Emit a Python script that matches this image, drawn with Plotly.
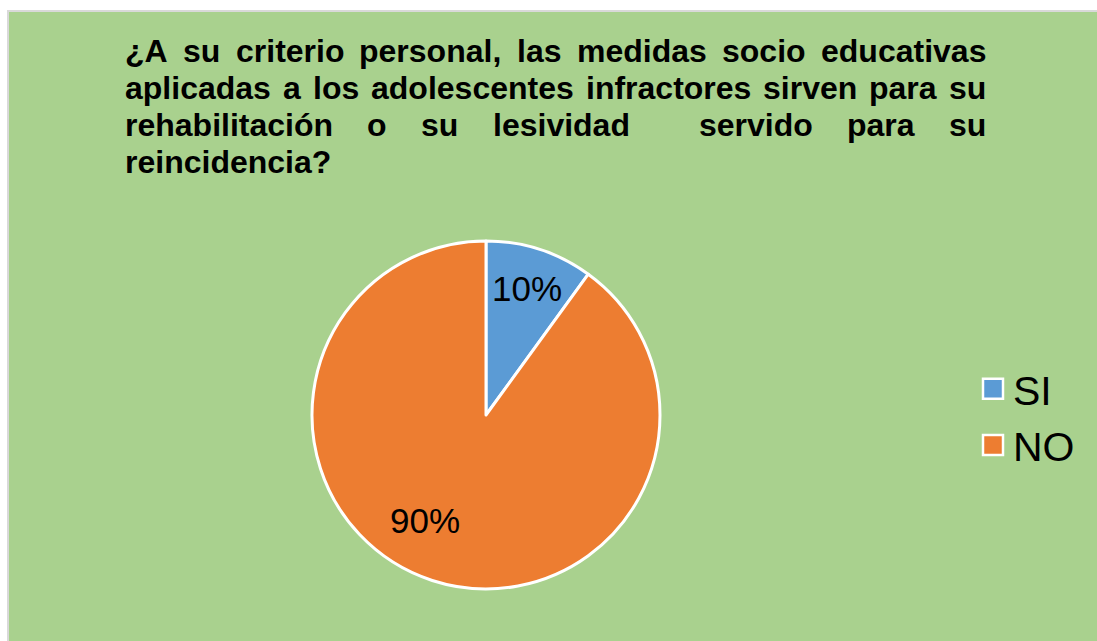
import plotly.graph_objects as go

# ---- data ----
labels = ["SI", "NO"]
values = [10, 90]
colors = ["#5B9BD5", "#ED7D31"]
title_lines = [
    "¿A su criterio personal, las medidas socio educativas",
    "aplicadas a los adolescentes infractores sirven para su",
    "rehabilitación o su lesividad  servido para su",
    "reincidencia?",
]

W, H = 1097, 641
FONT = "Liberation Sans, Arial, sans-serif"
TITLE_SIZE = 32

# Arial Bold advance widths (per 1000 em) for justification
ADV = {"¿": 611, "A": 722, " ": 278, "s": 556, "u": 611, "c": 556, "r": 389,
       "i": 278, "t": 333, "e": 556, "o": 611, "p": 611, "n": 611, "a": 556,
       "l": 278, ",": 278, "m": 889, "d": 611, "v": 556, "h": 611, "b": 611,
       "ó": 611, "f": 333, "?": 611}


def wpx(s):
    return sum(ADV.get(ch, 556) for ch in s) / 1000 * TITLE_SIZE


def px_x(x):
    return x / W


def px_y(y):
    return 1 - y / H


NBSP = "\u00a0"
fig = go.Figure()
fig.add_trace(go.Pie(
    labels=labels, values=values, sort=False, direction="clockwise", rotation=0,
    marker=dict(colors=colors, line=dict(color="white", width=3)),
    texttemplate=["%{percent}", NBSP + "<br>%{percent}" + NBSP * 7],
    textposition="inside", insidetextorientation="horizontal",
    textfont=dict(family=FONT, size=35, color="black"),
    domain=dict(x=[312 / W, 660 / W], y=[1 - 589 / H, 1 - 241 / H]),
    hoverinfo="label+percent",
))

annotations = []
left, right = 125, 986
baseline0, lstep = 62, 37
for li, line in enumerate(title_lines):
    top = baseline0 + li * lstep - 29
    if li == len(title_lines) - 1:
        annotations.append(dict(text="<b>" + line + "</b>", x=px_x(left), y=px_y(top),
                                xref="paper", yref="paper", xanchor="left", yanchor="top",
                                showarrow=False, borderpad=0, borderwidth=0,
                                font=dict(family=FONT, size=TITLE_SIZE, color="black")))
        continue
    toks = line.split(" ")
    words_w = sum(wpx(t) for t in toks if t)
    gap = (right - left - words_w) / (len(toks) - 1)
    x = left
    for i, t in enumerate(toks):
        if t:
            annotations.append(dict(text="<b>" + t + "</b>", x=px_x(x), y=px_y(top),
                                    xref="paper", yref="paper", xanchor="left", yanchor="top",
                                    showarrow=False, borderpad=0, borderwidth=0,
                                    font=dict(family=FONT, size=TITLE_SIZE, color="black")))
            x += wpx(t)
        if i < len(toks) - 1:
            x += gap

fig.update_layout(
    width=W, height=H, margin=dict(l=0, r=0, t=0, b=0),
    paper_bgcolor="white",
    shapes=[dict(type="rect", xref="paper", yref="paper", x0=px_x(8), x1=1.02,
                 y0=-0.02, y1=px_y(11), fillcolor="#A9D18E",
                 line=dict(color="#D9D9D9", width=2), layer="below")],
    annotations=annotations,
    showlegend=True,
    legend=dict(x=973 / W, y=px_y(417), xanchor="left", yanchor="middle",
                font=dict(family=FONT, size=41, color="black"),
                bgcolor="rgba(0,0,0,0)"),
)

post = """
document.body.style.margin='0';
try {
  document.querySelectorAll('.legend .legendpoints path').forEach(function(p){
    p.setAttribute('d', 'M10,10H-10V-10H10Z');
    p.style.strokeWidth = '2.5px';
  });
} catch(e) {}
"""

fig.write_html("out.html", post_script=post, config={"displayModeBar": False})
